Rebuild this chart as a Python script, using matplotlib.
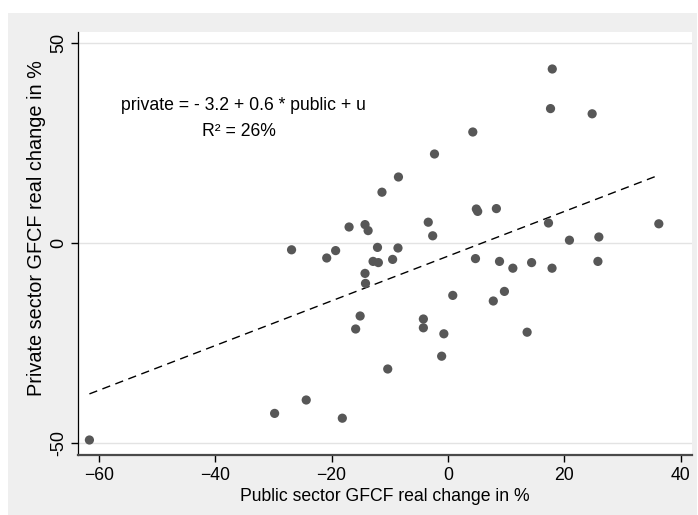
import numpy as np
import matplotlib
matplotlib.use("Agg")
import matplotlib.pyplot as plt
from matplotlib.patches import Rectangle

plt.rcParams['font.family'] = ['Liberation Sans', 'DejaVu Sans']

# public / private sector GFCF real change in %
public = [17.9, 17.6, 24.75, 4.25, -2.33, -8.52, -11.35, 4.86, 5.09, 8.3,
          -3.4, -17.0, -14.26, -13.73, 17.25, 36.2, -2.64, 20.85, 25.9, -26.88,
          -19.31, -12.12, -8.6, -20.84, -12.88, -11.97, -9.52, 4.71, 8.84, 11.13,
          14.35, 17.86, 25.74, -14.26, -14.18, 0.81, 9.68, 7.77, -15.1, -4.24,
          -4.24, -15.87, -0.72, 13.58, -1.1, -10.36, -24.36, -29.79, -18.16, -61.6]
private = [43.5, 33.6, 32.3, 27.75, 22.25, 16.5, 12.7, 8.5, 7.9, 8.6,
           5.2, 4.0, 4.6, 3.1, 5.0, 4.8, 1.8, 0.7, 1.5, -1.7,
           -1.9, -1.1, -1.25, -3.75, -4.6, -4.9, -4.1, -3.9, -4.6, -6.3,
           -4.9, -6.3, -4.6, -7.6, -10.1, -13.1, -12.1, -14.5, -18.25, -19.0,
           -21.2, -21.5, -22.7, -22.3, -28.3, -31.5, -39.25, -42.6, -43.8, -49.25]

xticks = [-60, -40, -20, 0, 20, 40]
yticks = [-50, 0, 50]
eq_text = "private = - 3.2 + 0.6 * public + u"
r2_text = "R\u00b2 = 26%"

x = np.array(public)
y = np.array(private)
slope, intercept = np.polyfit(x, y, 1)

fig = plt.figure(figsize=(6.98, 5.15), dpi=100)
fig.patch.set_facecolor('white')
fig.patches.append(Rectangle((8 / 698, 0), 689 / 698, 502 / 515,
                             transform=fig.transFigure, facecolor='#efefef',
                             edgecolor='none', zorder=-10))

ax = fig.add_axes([78 / 698, 60 / 515, 614 / 698, 423 / 515])
ax.set_facecolor('white')

for yt in yticks:
    ax.axhline(yt, color='#e3e3e3', lw=1, zorder=1)

ax.scatter(x, y, s=44, color='#575757', edgecolors='none', zorder=3)

xl = np.array([x.min(), x.max()])
ax.plot(xl, intercept + slope * xl, color='black', lw=1,
        dashes=(6, 4), zorder=2)

ax.text(-35.2, 34.3, eq_text, ha='center', va='center', fontsize=12.7)
ax.text(-36.0, 27.8, r2_text, ha='center', va='center', fontsize=12.7)

ax.set_xlim(-63.56, 41.9)
ax.set_ylim(-53, 52.75)
ax.set_xticks(xticks)
ax.set_yticks(yticks)
ax.set_yticklabels([str(t) for t in yticks], rotation=90, va='center')
ax.tick_params(axis='both', direction='out', length=5, width=1,
               labelsize=12.7, colors='black')
ax.tick_params(axis='y', pad=3, labelsize=13)

ax.spines['top'].set_visible(False)
ax.spines['right'].set_visible(False)
ax.spines['left'].set_color('black')
ax.spines['left'].set_linewidth(0.9)
ax.spines['bottom'].set_color('#4a4a4a')
ax.spines['bottom'].set_linewidth(1.6)

ax.set_xlabel("Public sector GFCF real change in %", fontsize=12.7, labelpad=3)
ax.set_ylabel("Private sector GFCF real change in %", fontsize=14.3)
ax.yaxis.set_label_coords(-0.052, 0.537)

fig.savefig("out.png", dpi=100, facecolor=fig.get_facecolor())
